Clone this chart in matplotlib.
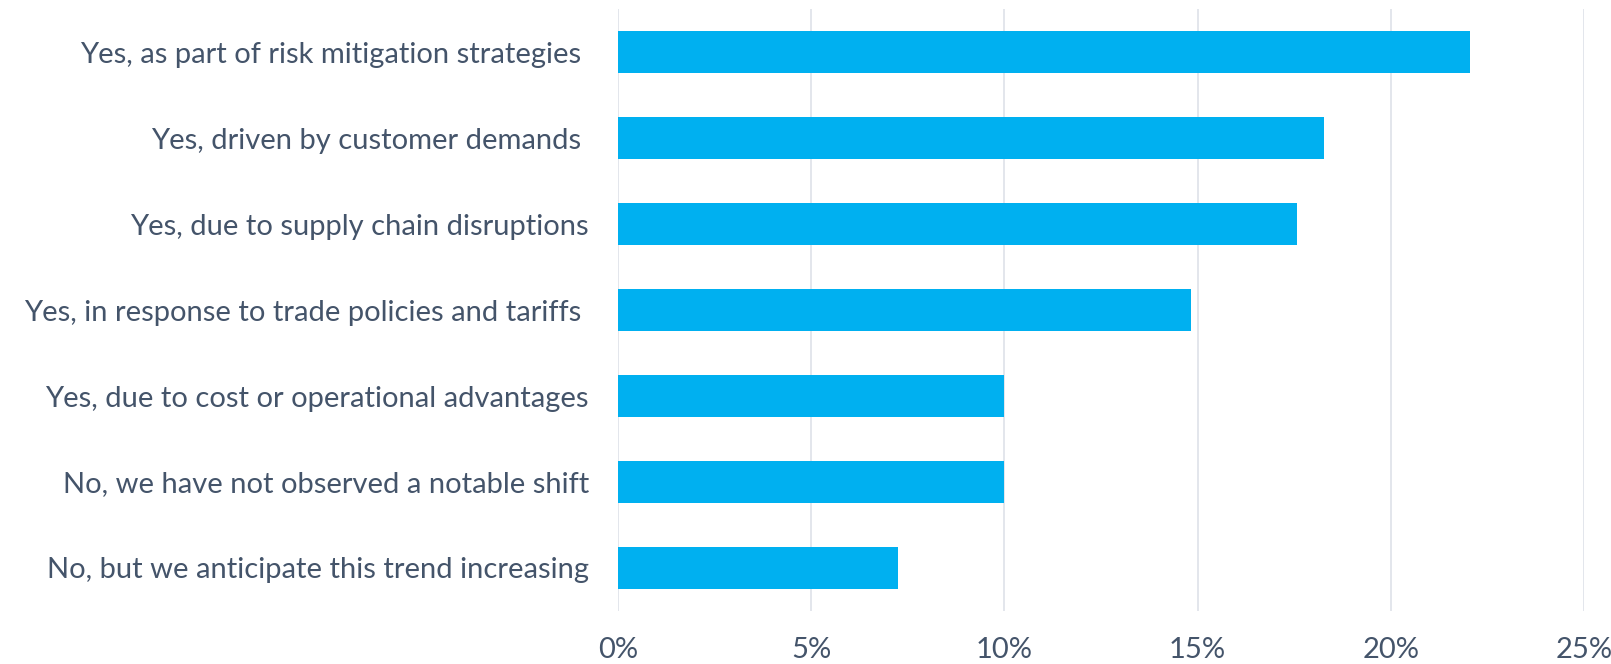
import matplotlib.pyplot as plt

# survey answers, top to bottom as shown
labels = [
    "Yes, as part of risk mitigation strategies ",
    "Yes, driven by customer demands ",
    "Yes, due to supply chain disruptions",
    "Yes, in response to trade policies and tariffs ",
    "Yes, due to cost or operational advantages",
    "No, we have not observed a notable shift",
    "No, but we anticipate this trend increasing",
]
values = [22.05, 18.26, 17.57, 14.82, 10.0, 10.0, 7.24]
xticks = [0, 5, 10, 15, 20, 25]

plt.rcParams['font.family'] = ['Lato', 'DejaVu Sans']
text_col = '#44546A'

fig = plt.figure(figsize=(16.11, 6.64), dpi=100)
ax = fig.add_axes([0.3836, 0.080, 0.5997, 0.906])

y = list(range(len(labels)))
ax.barh(y, values, height=0.49, color='#00B0F0', zorder=3)
ax.set_ylim(len(labels) - 0.5, -0.5)
ax.set_xlim(0, 25)
ax.set_yticks(y)
ax.set_yticklabels(labels, fontsize=21, color=text_col)
ax.set_xticks(xticks)
ax.set_xticklabels([f"{t}%" for t in xticks], fontsize=21, color=text_col)
ax.tick_params(axis='both', length=0)
ax.tick_params(axis='y', pad=21)
ax.tick_params(axis='x', pad=19)
ax.grid(axis='x', color='#E1E4EA', linewidth=1.3, zorder=0)
for s in ax.spines.values():
    s.set_visible(False)

fig.savefig('out.png', dpi=100)
